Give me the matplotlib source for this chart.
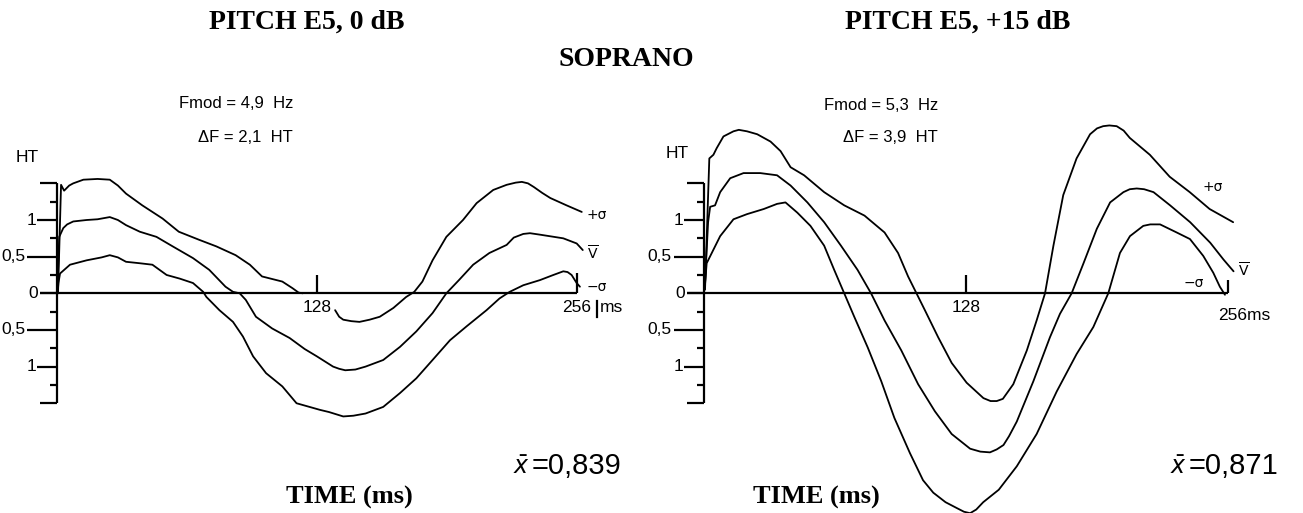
import numpy as np
import matplotlib
matplotlib.use("Agg")
import matplotlib.pyplot as plt

# ---------------- data (time in ms, deviation in HT) ----------------
left_plus_t = [0.5, 2.0, 3.5, 6, 8, 13, 20, 26, 30, 34, 38, 42, 52, 60, 70, 78.5, 88, 95, 101, 111, 116, 119,
               121,
               129, 137, 139, 141, 145, 149, 154, 159, 165.7, 172, 176, 180, 185, 191.8, 200, 206.7, 214.9,
               221.5, 226, 229, 232, 234.9, 239, 243, 251, 258.5]
left_plus_v = [0.0, 1.48, 1.40, 1.47, 1.50, 1.55, 1.56, 1.55, 1.47, 1.36, 1.28, 1.20, 1.02, 0.84, 0.73, 0.64,
               0.52, 0.39, 0.23, 0.16, 0.07, 0.01, 0.0,
               np.nan, -0.23, -0.32, -0.36, -0.38, -0.39, -0.36, -0.32, -0.20, -0.05, 0.02, 0.16, 0.45, 0.77,
               1.00, 1.23, 1.41, 1.48, 1.51, 1.52, 1.50, 1.45, 1.37, 1.30, 1.20, 1.11]

left_mean_t = [0.5, 1.1, 3.1, 5, 8, 14.6, 20, 26, 30, 34, 40.8, 49, 57, 67, 75, 83, 86.7, 90, 93, 98, 106,
               114.6, 122, 128, 136, 139, 142, 147, 152, 160.7, 169, 177, 185, 191.8, 198, 205, 213, 221.5,
               225, 229.7, 233, 237.9, 249.4, 256, 259]
left_mean_v = [0.30, 0.77, 0.89, 0.94, 0.98, 1.00, 1.01, 1.04, 1.00, 0.93, 0.84, 0.77, 0.64, 0.48, 0.32, 0.09,
               0.02, 0.0, -0.09, -0.32, -0.48, -0.61, -0.76, -0.86, -1.00, -1.03, -1.05, -1.04, -1.00, -0.91,
               -0.73, -0.52, -0.27, 0.0, 0.18, 0.39, 0.55, 0.66, 0.76, 0.81, 0.82, 0.80, 0.75, 0.68, 0.59]

left_minus_t = [0.3, 0.7, 1.5, 6.4, 14.6, 22, 26, 30, 34, 40.8, 47, 54, 60.5, 67, 72, 73.6, 80, 86.7, 91.6,
                96.6, 103, 111, 118, 124.4, 129.5, 134, 141, 146, 152, 160.7, 169, 177, 185, 193.6, 201.8,
                211.6, 218, 223, 229.7, 237.9, 244.5, 249.4, 251.5, 253.5, 256, 257.6]
left_minus_v = [0.0, 0.14, 0.27, 0.39, 0.45, 0.49, 0.52, 0.49, 0.43, 0.41, 0.39, 0.25, 0.20, 0.14, 0.02,
                -0.05, -0.23, -0.39, -0.59, -0.86, -1.09, -1.27, -1.50, -1.55, -1.59, -1.62, -1.68, -1.67,
                -1.64, -1.55, -1.36, -1.16, -0.91, -0.64, -0.45, -0.23, -0.07, 0.02, 0.11, 0.18, 0.25, 0.30,
                0.29, 0.25, 0.14, 0.09]

right_plus_t = [0.5, 2.6, 4.6, 6.2, 9.5, 14.4, 17, 21, 26, 32.5, 37.4, 42.3, 48.9, 58.7, 68.5, 78.4, 88.2,
                94.8, 99.7, 103.8, 107.9, 114.4, 121, 128.3, 136.5, 140, 143, 146, 151.1, 157.7, 162.5, 166.6,
                170.7, 175.5, 182, 188.6, 192, 195, 198, 201.6, 205, 208, 217.8, 227.5, 237.3, 247, 258.5]
right_plus_v = [0.05, 1.84, 1.89, 1.98, 2.14, 2.21, 2.23, 2.21, 2.17, 2.07, 1.94, 1.72, 1.61, 1.38, 1.20,
                1.06, 0.83, 0.55, 0.23, 0.0, -0.23, -0.60, -0.95, -1.22, -1.43, -1.47, -1.47, -1.44, -1.24,
                -0.78, -0.37, 0.0, 0.65, 1.34, 1.84, 2.17, 2.25, 2.28, 2.29, 2.28, 2.22, 2.12, 1.89, 1.59,
                1.38, 1.15, 0.97]

right_mean_t = [0.5, 2, 3, 5.4, 7.9, 12.8, 19.3, 27.5, 35.7, 42.3, 50.5, 58.7, 66.9, 75, 81.6, 88.2, 96.4,
                104.6, 112.8, 121, 130, 135, 139.7, 143, 146.3, 149, 152.8, 160.9, 169, 173.9, 179.6, 185.4,
                191.9, 198.4, 204.9, 208, 211.4, 215, 219.6, 227.7, 237.5, 247.3, 253.8, 258.7]
right_mean_v = [0.14, 0.97, 1.18, 1.20, 1.38, 1.57, 1.64, 1.64, 1.61, 1.47, 1.24, 0.97, 0.65, 0.32, 0.0,
                -0.37, -0.78, -1.24, -1.61, -1.92, -2.12, -2.16, -2.17, -2.13, -2.07, -1.95, -1.75, -1.20,
                -0.60, -0.28, 0.0, 0.41, 0.88, 1.24, 1.38, 1.42, 1.43, 1.42, 1.38, 1.20, 0.97, 0.69, 0.46,
                0.30]

right_minus_t = [0.3, 1.3, 3.8, 7.9, 14.4, 21, 29.2, 35.7, 39.8, 45.6, 52, 58.7, 63.6, 68.5, 73.4, 80, 86.6,
                 93, 100.6, 107, 112, 118, 123.5, 127, 130, 133, 136.4, 144, 152.8, 162.5, 172.3, 182, 190.2,
                 197.5, 203.2, 208.1, 214.6, 218, 222.8, 230.9, 237.4, 243.9, 248.8, 252, 254.5]
right_minus_v = [0.05, 0.41, 0.55, 0.78, 1.01, 1.08, 1.15, 1.22, 1.24, 1.10, 0.92, 0.65, 0.32, 0.0, -0.32,
                 -0.74, -1.20, -1.70, -2.18, -2.55, -2.72, -2.85, -2.93, -2.98, -3.00, -2.95, -2.85, -2.68,
                 -2.36, -1.92, -1.34, -0.83, -0.46, 0.0, 0.55, 0.78, 0.92, 0.94, 0.94, 0.83, 0.74, 0.51,
                 0.28, 0.09, -0.02]

ytick_values = [1.5, 1.25, 1.0, 0.75, 0.5, 0.25, 0.0, -0.25, -0.5, -0.75, -1.0, -1.25, -1.5]
ytick_labels = {1.0: "1", 0.5: "0,5", 0.0: "0", -0.5: "0,5", -1.0: "1"}
xtick_values = [128, 256]

titles = ["PITCH E5, 0 dB", "PITCH E5, +15 dB"]
fmod_texts = ["Fmod = 4,9  Hz", "Fmod = 5,3  Hz"]
df_texts = ["ΔF = 2,1  HT", "ΔF = 3,9  HT"]
xbar_values = ["=0,839", "=0,871"]

# ---------------- layout ----------------
W, H = 1303, 513
fig = plt.figure(figsize=(W / 100, H / 100), dpi=100)
Y0 = 293.3      # pixel row of zero line
PPH = 73.3      # pixels per HT
SERIF = "Liberation Serif"
SANS = "Liberation Sans"


def ftext(x, y, s, **kw):
    fig.text(x / W, 1 - y / H, s, **kw)


def make_axes(left_px, right_px, x0_px, ppm):
    ax = fig.add_axes([left_px / W, 0, (right_px - left_px) / W, 1])
    ax.set_xlim((left_px - x0_px) / ppm, (right_px - x0_px) / ppm)
    ax.set_ylim((Y0 - H) / PPH, Y0 / PPH)
    ax.axis("off")
    return ax


def draw_frame(ax, ppm, tick256_up, tick128_up):
    kw = dict(color="black", lw=1.6, solid_capstyle="butt", clip_on=False)
    ax.plot([0, 0], [-1.5, 1.5], **kw)
    lengths = {1.5: 17, -1.5: 17, 1.0: 20, -1.0: 20, 0.5: 30, -0.5: 30, 0.0: 17}
    for v in ytick_values:
        L = lengths.get(v, 7)
        ax.plot([-L / ppm, 0], [v, v], **kw)
        if v in ytick_labels:
            offs = {1.0: 21, -1.0: 21, 0.5: 32, -0.5: 32, 0.0: 19}[v]
            ax.text(-offs / ppm, v, ytick_labels[v], ha="right", va="center",
                    fontsize=12.5, family=SANS)
    ax.plot([-17 / ppm, xtick_values[1]], [0, 0], **kw)
    ax.plot([xtick_values[0]] * 2, [0, tick128_up / PPH], **kw)
    ax.plot([xtick_values[1]] * 2, [0, tick256_up / PPH], **kw)
    ax.text(xtick_values[0], -14 / PPH, str(xtick_values[0]), ha="center", va="center",
            fontsize=12.5, family=SANS)


curve_kw = dict(color="black", lw=1.3, solid_joinstyle="round", solid_capstyle="round")

# left panel
ppm_l = 2.03
axl = make_axes(0, 645, 57, ppm_l)
draw_frame(axl, ppm_l, 20, 18)
axl.plot(left_plus_t, left_plus_v, **curve_kw)
axl.plot(left_mean_t, left_mean_v, **curve_kw)
axl.plot(left_minus_t, left_minus_v, **curve_kw)
axl.text(256, -14 / PPH, "256", ha="center", va="center", fontsize=12.5, family=SANS)
axl.plot([266, 266], [-8 / PPH, -24 / PPH], color="black", lw=1.6)
axl.text(267.5, -14 / PPH, "ms", ha="left", va="center", fontsize=12.5, family=SANS)

# right panel
ppm_r = 2.047
axr = make_axes(650, 1303, 704, ppm_r)
draw_frame(axr, ppm_r, 13, 18)
axr.plot(right_plus_t, right_plus_v, **curve_kw)
axr.plot(right_mean_t, right_mean_v, **curve_kw)
axr.plot(right_minus_t, right_minus_v, **curve_kw)
axr.text(251, -22 / PPH, "256ms", ha="left", va="center", fontsize=12.5, family=SANS)

# axis unit labels
ftext(16, 158, "HT", ha="left", va="center", fontsize=12.5, family=SANS)
ftext(666, 153, "HT", ha="left", va="center", fontsize=12.5, family=SANS)

# curve labels
lab_kw = dict(va="center", ha="left", fontsize=10, family="DejaVu Sans")
ftext(587, 215, "+σ", **lab_kw)
ftext(587, 253, r"$\overline{\mathrm{V}}$", **lab_kw)
ftext(587, 287, "−σ", **lab_kw)
ftext(1202, 187, "+σ", **lab_kw)
ftext(1238, 270, r"$\overline{\mathrm{V}}$", **lab_kw)
ftext(1184, 283, "−σ", **lab_kw)

# titles
title_kw = dict(ha="center", va="center", fontsize=20, fontweight="bold", family=SERIF)
ftext(307, 22, titles[0], **title_kw)
ftext(958, 22, titles[1], **title_kw)
ftext(626, 60, "SOPRANO", **title_kw)

# modulation annotations
ann_kw = dict(ha="right", va="center", fontsize=12, family=SANS)
ftext(293, 104, fmod_texts[0], **ann_kw)
ftext(293, 137, df_texts[0], **ann_kw)
ftext(938, 105, fmod_texts[1], **ann_kw)
ftext(938, 137, df_texts[1], **ann_kw)

# x-bar values
for xb, val in [(513, xbar_values[0]), (1170, xbar_values[1])]:
    ftext(xb, 467, r"$\bar{x}$", ha="left", va="center", fontsize=17)
    ftext(xb + 19, 466, val, ha="left", va="center", fontsize=21, family=SANS)

# TIME labels
time_kw = dict(va="center", fontsize=19, fontweight="bold", family=SERIF)
ftext(286, 497, "TIME (ms)", ha="left", **time_kw)
ftext(880, 497, "TIME (ms)", ha="right", **time_kw)

fig.savefig("out.png", dpi=100, facecolor="white")
